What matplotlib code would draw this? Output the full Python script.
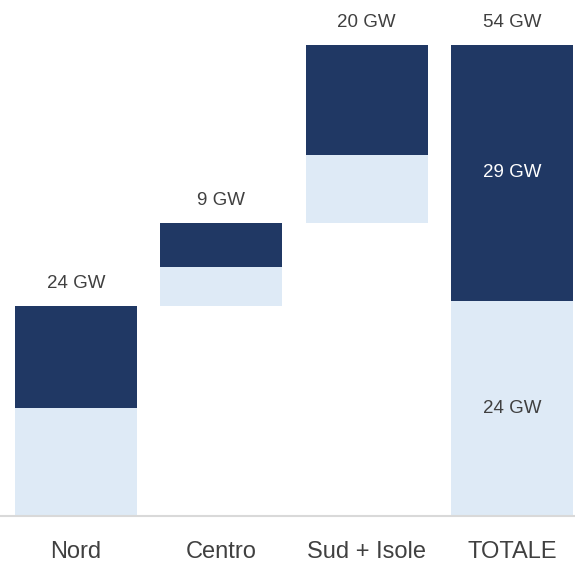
import matplotlib
matplotlib.use("Agg")
import matplotlib.pyplot as plt
import numpy as np

categories = ["Nord", "Centro", "Sud + Isole", "TOTALE"]
light_vals = [12.4, 4.5, 7.8]
dark_vals = [11.7, 5.0, 12.6]
top_labels = ["24 GW", "9 GW", "20 GW", "54 GW"]
total_light_label = "24 GW"
total_dark_label = "29 GW"

DARK = "#203864"
LIGHT = "#DEEAF6"
TXT = "#404040"

plt.rcParams['font.family'] = ['Liberation Sans', 'DejaVu Sans']

fig = plt.figure(figsize=(5.75, 5.65), dpi=100)
ax = fig.add_axes([0, 49/565, 1, 1 - 49/565])

x = np.arange(len(categories))
w = 0.84

bottom = 0.0
for i in range(3):
    ax.bar(x[i], light_vals[i], w, bottom=bottom, color=LIGHT, linewidth=0)
    ax.bar(x[i], dark_vals[i], w, bottom=bottom + light_vals[i], color=DARK, linewidth=0)
    top = bottom + light_vals[i] + dark_vals[i]
    ax.text(x[i], top + 2.6, top_labels[i], ha='center', va='center', fontsize=13.5, color=TXT)
    bottom = top

tl = sum(light_vals)
td = sum(dark_vals)
ax.bar(x[3], tl, w, color=LIGHT, linewidth=0)
ax.bar(x[3], td, w, bottom=tl, color=DARK, linewidth=0)
ax.text(x[3], tl + td + 2.6, top_labels[3], ha='center', va='center', fontsize=13.5, color=TXT)
ax.text(x[3], tl / 2, total_light_label, ha='center', va='center', fontsize=13.5, color=TXT)
ax.text(x[3], tl + td / 2, total_dark_label, ha='center', va='center', fontsize=13.5, color='white')

scale = 471 / 54.0
ax.set_ylim(0, 516 / scale)
ax.set_xlim(-76 / 145.3, 3 + (575 - 512) / 145.3)

for s in ['top', 'right', 'left']:
    ax.spines[s].set_visible(False)
ax.spines['bottom'].set_color('#D9D9D9')
ax.spines['bottom'].set_linewidth(1.5)
ax.set_yticks([])
ax.set_xticks(x)
ax.set_xticklabels(categories, fontsize=17, color=TXT)
ax.tick_params(axis='x', length=0, pad=18)

fig.savefig("out.png", dpi=100)
